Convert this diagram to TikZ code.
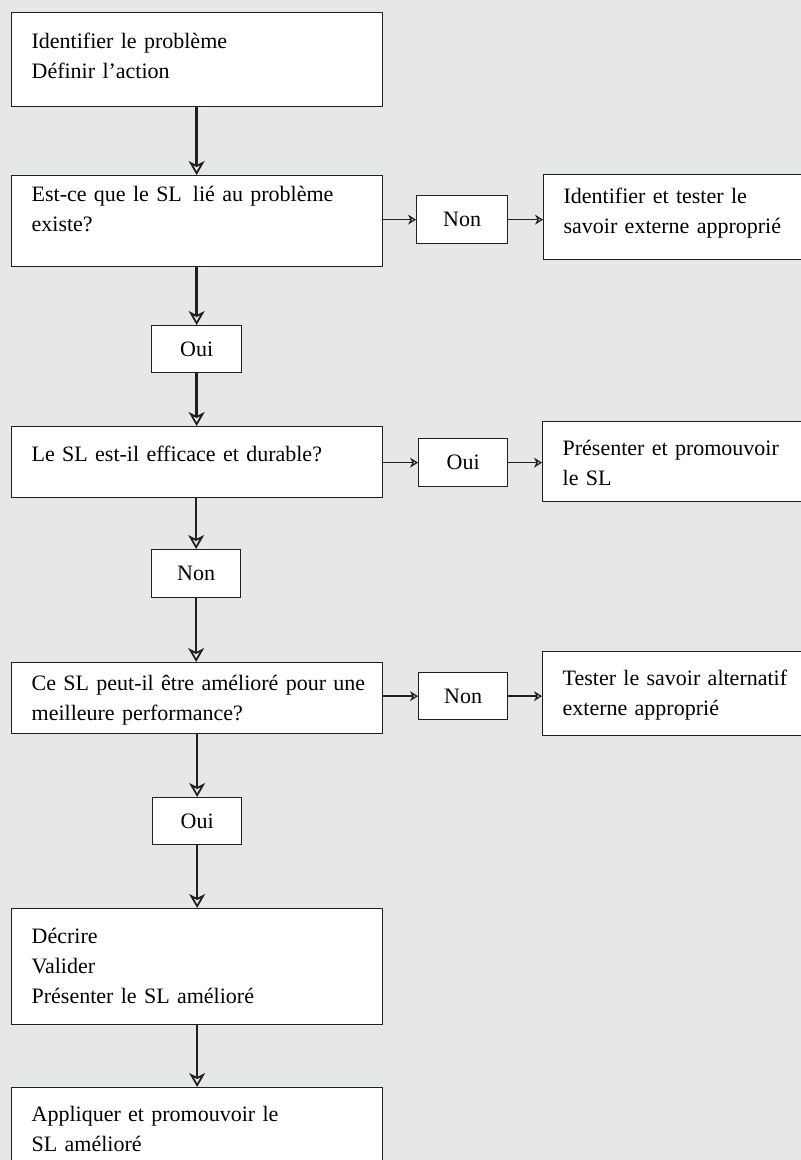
\documentclass[tikz,border=0pt]{standalone}
\usepackage{fontspec}
\setmainfont{Liberation Serif}
\usetikzlibrary{arrows.meta}
\definecolor{bggray}{HTML}{E6E7E9}
\definecolor{ink}{HTML}{231F20}
\newcommand\topgap[1]{\rule{0pt}{#1pt}}
\newcommand\botgap[1]{\rule[-#1pt]{0pt}{#1pt}}
\begin{document}
\begin{tikzpicture}[x=1pt,y=-1pt,
  box/.style={draw=ink, fill=white, line width=1.3pt, anchor=north west, align=left,
    inner xsep=20pt, inner ysep=0pt, font=\fontsize{22}{30}\selectfont},
  mainbox/.style={box, text width=331pt},
  sidebox/.style={box, text width=280pt},
  small/.style={draw=ink, fill=white, line width=1.3pt, anchor=north west, align=center,
    inner sep=0pt, font=\fontsize{22}{30}\selectfont},
  varrow/.style={draw=ink, line width=2.4pt, -{Stealth[open, length=14pt, width=16pt, inset=4pt, line width=1.8pt]}},
  harrow/.style={draw=ink, line width=1.6pt, -{Stealth[open, length=8pt, width=10pt, inset=2.5pt, line width=1.2pt]}}
]
\useasboundingbox (0,0) rectangle (801,1160);
\begin{scope}
\clip (0,0) rectangle (801,1160);
\fill[bggray] (0,0) rectangle (801,1160);

% main column
\node[mainbox] (b1) at (11,12) {\topgap{36}Identifier le problème\\Définir l’action\botgap{28}};
\node[mainbox] (b2) at (11,175) {\topgap{26}Est-ce que le SL\, lié au problème\\existe?\botgap{35}};
\node[small, minimum width=90pt, minimum height=47pt] (oui1) at (151,325) {Oui};
\node[mainbox] (b3) at (11,426) {\topgap{35}Le SL est-il efficace et durable?\botgap{36}};
\node[small, minimum width=89pt, minimum height=48pt] (non2) at (151,549) {Non};
\node[mainbox] (b4) at (11,662) {\topgap{28}\mbox{Ce SL peut-il être amélioré pour une}\\meilleure performance?\botgap{13}};
\node[small, minimum width=89pt, minimum height=47pt] (oui3) at (152,797) {Oui};
\node[mainbox] (b5) at (11,908) {\topgap{35}Décrire\\Valider\\Présenter le SL amélioré\botgap{21}};
\node[mainbox] (b6) at (11,1087) {\topgap{34}Appliquer et promouvoir le\\SL amélioré\botgap{30}};

% side column
\node[small, minimum width=91pt, minimum height=48pt] (non1) at (416,195) {Non};
\node[sidebox] (r1) at (543,174) {\topgap{29}Identifier et tester le\\savoir externe approprié\botgap{26}};
\node[small, minimum width=89pt, minimum height=48pt] (oui2) at (418,438) {Oui};
\node[sidebox] (r2) at (542,421) {\topgap{34}Présenter et promouvoir\\le SL\botgap{16}};
\node[small, minimum width=89pt, minimum height=47pt] (non3) at (418,672) {Non};
\node[sidebox] (r3) at (542,651) {\topgap{34}Tester le savoir alternatif\\externe approprié\botgap{20}};

% vertical connectors
\draw[varrow] (b1.south -| oui1.north) -- (b2.north -| oui1.north);
\draw[varrow] (b2.south -| oui1.north) -- (oui1.north);
\draw[varrow] (oui1.south) -- (b3.north -| oui1.south);
\draw[varrow] (b3.south -| non2.north) -- (non2.north);
\draw[varrow] (non2.south) -- (b4.north -| non2.south);
\draw[varrow] (b4.south -| oui3.north) -- (oui3.north);
\draw[varrow] (oui3.south) -- (b5.north -| oui3.south);
\draw[varrow] (b5.south -| oui3.south) -- (b6.north -| oui3.south);

% horizontal connectors
\draw[harrow] (b2.east |- non1.west) -- (non1.west);
\draw[harrow] (non1.east) -- (r1.west |- non1.east);
\draw[harrow] (b3.east |- oui2.west) -- (oui2.west);
\draw[harrow] (oui2.east) -- (r2.west |- oui2.east);
\draw[harrow] (b4.east |- non3.west) -- (non3.west);
\draw[harrow] (non3.east) -- (r3.west |- non3.east);
\end{scope}
\end{tikzpicture}
\end{document}
